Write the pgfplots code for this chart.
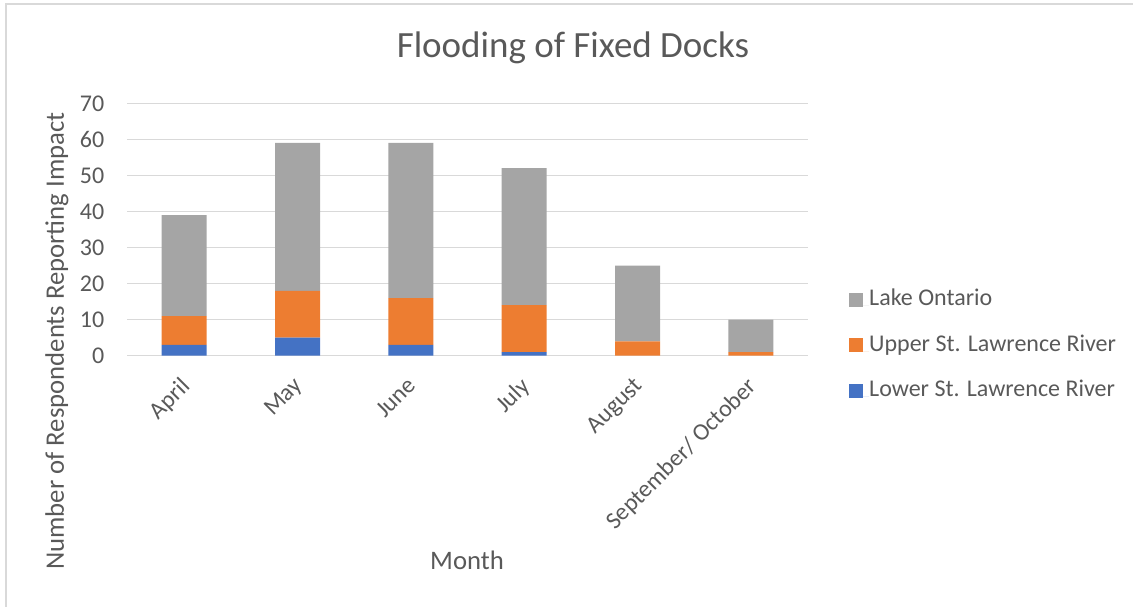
\documentclass[border=0pt]{standalone}
\usepackage{fontspec}
\setmainfont{Carlito}
\usepackage{pgfplots}
\pgfplotsset{compat=1.18}

\definecolor{txt}{HTML}{595959}
\definecolor{gridc}{HTML}{D9D9D9}
\definecolor{cLake}{HTML}{A5A5A5}
\definecolor{cUpper}{HTML}{ED7D31}
\definecolor{cLower}{HTML}{4472C4}

\begin{document}
\begin{tikzpicture}
\useasboundingbox (-127.5pt,-250.3pt) rectangle (1005.5pt,355.7pt);
% chart area border
\draw[gridc, line width=2pt] (-121pt,-252pt) -- (-121pt,351.2pt) -- (1008pt,351.2pt);

\begin{axis}[
  scale only axis,
  width=680pt, height=252.4pt,
  xmin=-0.5, xmax=5.5, ymin=0, ymax=70,
  ybar stacked, bar width=45pt,
  axis line style={draw=none},
  major tick length=0pt,
  ytick={0,10,...,70},
  ymajorgrids,
  grid style={gridc, line width=1.5pt},
  xtick={0,...,5},
  xticklabels={April,May,June,July,August,September/ October},
  /pgf/number format/assume math mode=true,
  tick label style={font=\fontsize{24pt}{28pt}\selectfont, text=txt},
  yticklabel style={anchor=east, inner sep=0pt, xshift=-23pt},
  xticklabel style={xshift=-5pt, yshift=-20pt, rotate=45, anchor=north east, inner sep=0pt},
  reverse legend,
  legend style={at={(rel axis cs:1.061,0.265)}, anchor=north west, draw=none, fill=none,
    inner sep=0pt, row sep=27.5pt,
    font=\fontsize{24pt}{28pt}\selectfont, text=txt,
    nodes={inner sep=0pt, anchor=base west}},
  legend cell align=left,
  legend image code/.code={\fill[#1] (0pt,-1pt) rectangle (14pt,13pt); \path (14pt,0) -- (20pt,0);},
]
\addplot[fill=cLower, draw=none] coordinates {(0,3) (1,5) (2,3) (3,1) (4,0) (5,0)};
\addlegendentry{Lower St. Lawrence River}
\addplot[fill=cUpper, draw=none] coordinates {(0,8) (1,13) (2,13) (3,13) (4,4) (5,1)};
\addlegendentry{Upper St. Lawrence River}
\addplot[fill=cLake, draw=none] coordinates {(0,28) (1,41) (2,43) (3,38) (4,21) (5,9)};
\addlegendentry{Lake Ontario}
\end{axis}

\node[text=txt, font=\fontsize{37pt}{44pt}\selectfont] at (445.5pt,307.7pt) {Flooding of Fixed Docks};
\node[text=txt, font=\fontsize{26.7pt}{32pt}\selectfont, rotate=90] at (-70.5pt,14.7pt) {Number of Respondents Reporting Impact};
\node[text=txt, font=\fontsize{26.7pt}{32pt}\selectfont] at (339.5pt,-204.3pt) {Month};
\end{tikzpicture}
\end{document}
